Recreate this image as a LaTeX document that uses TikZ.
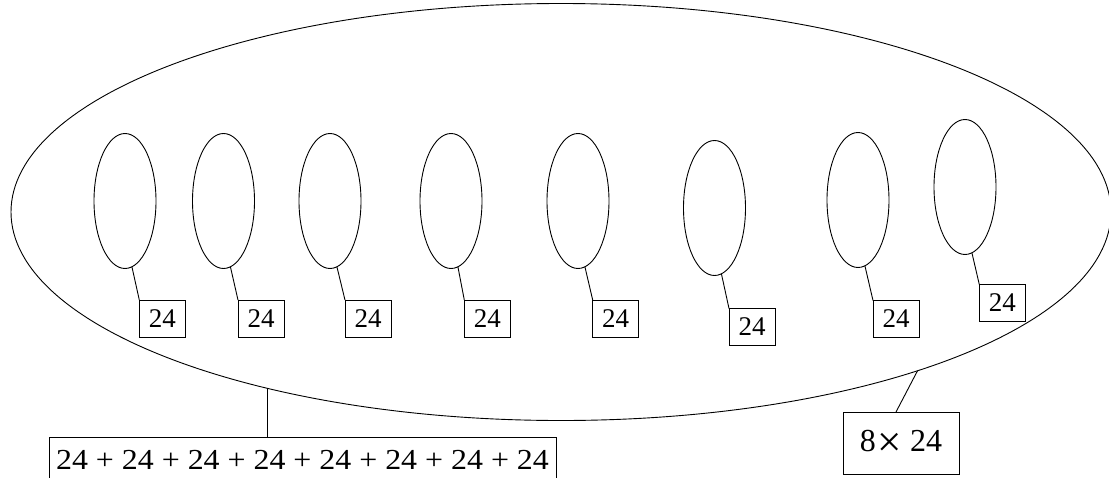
\documentclass[tikz,border=0pt]{standalone}
\usepackage{fontspec}
\usepackage{graphicx}
\setmainfont{Liberation Serif}
\newfontfamily\widefont[FakeStretch=1.1]{Liberation Serif}
\usetikzlibrary{shapes.geometric,calc}
\begin{document}
\begin{tikzpicture}[x=1pt,y=-1pt,
  every path/.style={line width=0.9pt},
  small/.style={draw, ellipse, minimum width=62pt, minimum height=135pt, inner sep=0pt, outer sep=0pt},
  big/.style={draw, ellipse, minimum width=1100pt, minimum height=417pt, inner sep=0pt, outer sep=0pt},
  numbox/.style={draw, rectangle, minimum width=46pt, minimum height=37pt, inner sep=0pt, outer sep=0pt,
    font=\fontsize{27}{30}\selectfont},
  link/.style={draw, line width=0.9pt}
]
\useasboundingbox (0,0) rectangle (1109,477);

\node[big] (B) at (561,212) {};

\foreach \i/\ex/\ey/\bx/\by in {1/125/201/162.3/318.5, 2/223.5/201/261/318.5, 3/330/201/368/318.5,
  4/451/201/487.3/318.5, 5/578/201/615.7/318.5, 6/714.5/208/752/327, 7/858/200/896/319, 8/965/187/1002.3/303}{
  \node[small] (e\i) at (\ex,\ey) {};
  \node[numbox] (n\i) at (\bx,\by) {24};
  \draw[link] (e\i.-84) -- (n\i.north west);
}

\node[draw, rectangle, minimum width=507pt, minimum height=46pt, inner sep=0pt, outer sep=0pt,
  font=\widefont\fontsize{29}{32}\selectfont] (sum) at (302.5,460) {24 + 24 + 24 + 24 + 24 + 24 + 24 + 24};
\draw[link] (B.211.3) -- (B.211.3 |- sum.north);

\node[draw, rectangle, minimum width=116pt, minimum height=62pt, inner sep=0pt, outer sep=0pt,
  font=\fontsize{32}{36}\selectfont] (prod) at (901,443) {8\hspace{2pt}\raisebox{-5pt}{\scalebox{1.35}{×}}\hspace{8pt}24};
\draw[link] (B.-24.9) -- ([xshift=-5pt]prod.north);
\end{tikzpicture}
\end{document}
